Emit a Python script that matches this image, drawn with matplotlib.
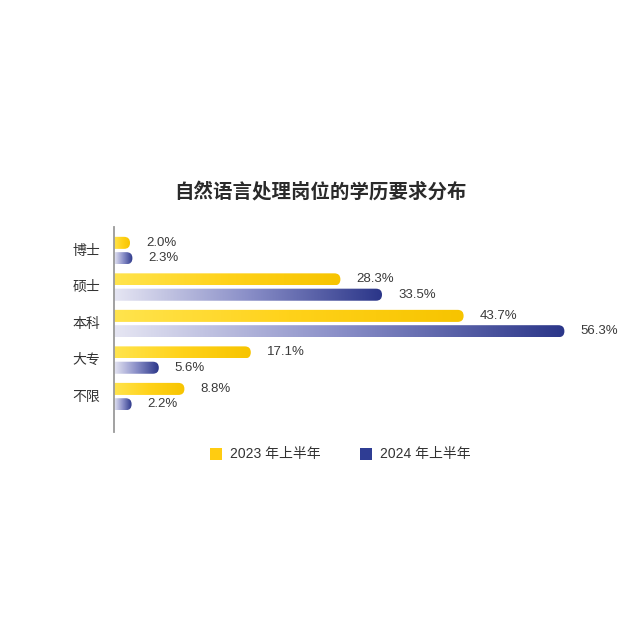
import numpy as np
import matplotlib
matplotlib.use("Agg")
import matplotlib.pyplot as plt
from matplotlib.patches import FancyBboxPatch, Rectangle
from matplotlib.colors import LinearSegmentedColormap

plt.rcParams['font.family'] = ['Liberation Sans', 'Noto Sans CJK SC', 'DejaVu Sans']

categories = ['博士', '硕士', '本科', '大专', '不限']
vals_2023 = [2.0, 28.3, 43.7, 17.1, 8.8]
vals_2024 = [2.3, 33.5, 56.3, 5.6, 2.2]
series_names = ['2023 年上半年', '2024 年上半年']

fig = plt.figure(figsize=(6.4, 6.4), dpi=100)
fig.patch.set_facecolor('white')

# axes placed so that x=0 sits on the grey axis line
ax = fig.add_axes([114 / 640, 208 / 640, 512 / 640, 205 / 640])
ax.set_xlim(0, 64)
ax.set_ylim(4.97, -0.644)
ax.axis('off')

yellow_cmap = LinearSegmentedColormap.from_list('y', ['#FFE44D', '#FFD21A', '#F7C400'])
blue_cmap = LinearSegmentedColormap.from_list('b', ['#E6E6F3', '#8A8FC8', '#2B3689'])

px_x = 512 / 64.0      # pixels per x unit
px_y = 205 / (4.97 + 0.644)  # pixels per y unit
radius_px = 6.0
rx = radius_px / px_x
ry = radius_px / px_y
off = 0.21
h = 0.33


def gradient_bar(y, val, cmap):
    x0, x1 = -2.0, val
    patch = FancyBboxPatch((x0, y - h / 2), x1 - x0, h,
                           boxstyle="round,pad=0,rounding_size=%f" % rx,
                           mutation_aspect=ry / rx,
                           facecolor='none', edgecolor='none')
    ax.add_patch(patch)
    grad = np.linspace(0, 1, 256).reshape(1, -1)
    im = ax.imshow(grad, cmap=cmap, aspect='auto',
                   extent=(0, max(val, 0.1), y + h / 2, y - h / 2),
                   interpolation='bicubic', zorder=2)
    im.set_clip_path(patch)


for i, (a, b) in enumerate(zip(vals_2023, vals_2024)):
    gradient_bar(i - off, a, yellow_cmap)
    gradient_bar(i + off, b, blue_cmap)
    ax.text(a + 2.0, i - off, '%.1f%%' % a, va='center', ha='left',
            fontsize=9.5, color='#3a3a3a')
    ax.text(b + 2.0, i + off, '%.1f%%' % b, va='center', ha='left',
            fontsize=9.5, color='#3a3a3a')
    ax.text(-1.7, i, categories[i], va='center', ha='right', fontsize=10,
            color='#333333', family=['Noto Sans CJK SC', 'DejaVu Sans'])

ax.set_xlim(0, 64)
ax.set_ylim(4.97, -0.644)

# vertical axis line
fig.add_artist(plt.Line2D([114 / 640, 114 / 640], [1 - 227 / 640, 1 - 432 / 640],
                          color='#9a9a9a', lw=1.3))

fig.text(0.5, 1 - 192 / 640, '自然语言处理岗位的学历要求分布', ha='center', va='center',
         fontsize=14, fontweight='bold', color='#2a2a2a',
         family=['Noto Sans CJK SC', 'DejaVu Sans'])

# legend
leg_y = 1 - 454 / 640
for sx, tx, col, name in [(210, 230, '#FFCC11', series_names[0]),
                           (360, 380, '#2F3D94', series_names[1])]:
    fig.add_artist(Rectangle((sx / 640, leg_y - 6 / 640), 12 / 640, 12 / 640,
                             transform=fig.transFigure, facecolor=col, edgecolor='none'))
    fig.text(tx / 640, leg_y, name, ha='left', va='center', fontsize=10,
             color='#333333', family=['Liberation Sans', 'Noto Sans CJK SC'])

fig.savefig('out.png', dpi=100, facecolor='white')
